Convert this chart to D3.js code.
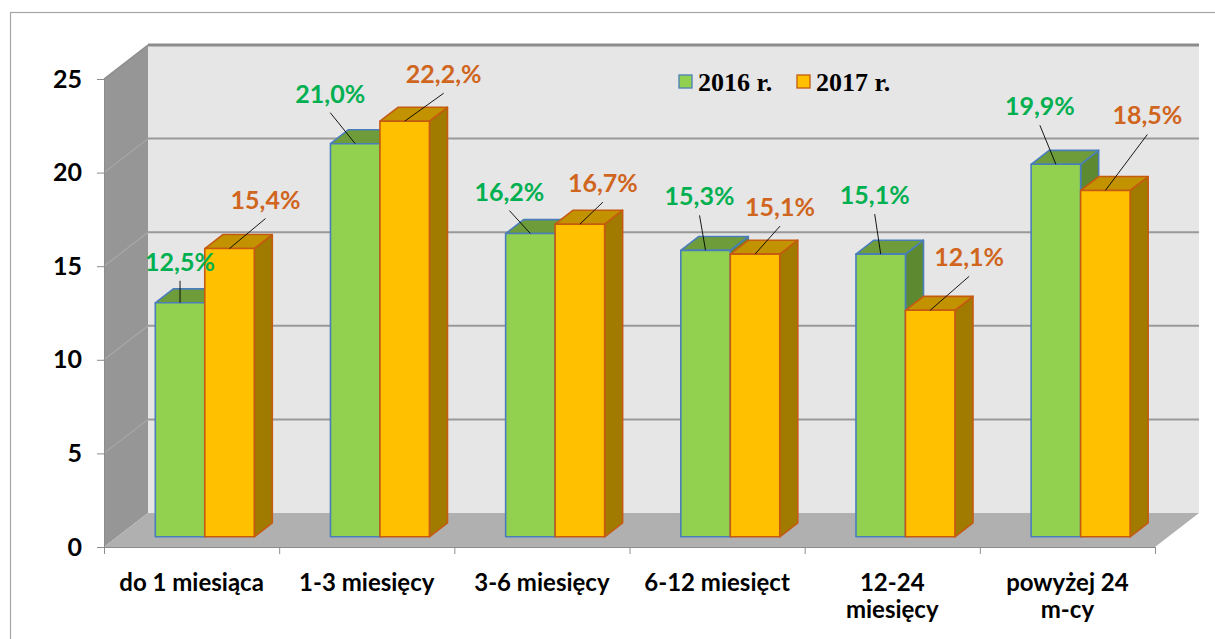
<!DOCTYPE html>
<html>
  <head>
    <meta charset="utf-8" />
    <title>Bezrobotni wg czasu pozostawania bez pracy</title>
    <script src="https://d3js.org/d3.v7.min.js"></script>
    <style>
      body { margin: 0; background: #fff; }
      svg { display: block; }
    </style>
  </head>
  <body>
    <div id="chart"></div>
    <script>
      // data
      var categories = ["do 1 miesiąca", "1-3 miesięcy", "3-6 miesięcy", "6-12 miesięct", "12-24 miesięcy", "powyżej 24 m-cy"];
      var catLines = [["do 1 miesiąca"], ["1-3 miesięcy"], ["3-6 miesięcy"], ["6-12 miesięct"], ["12-24", "miesięcy"], ["powyżej 24", "m-cy"]];
      var series = ["2016 r.", "2017 r."];
      var values2016 = [12.5, 21.0, 16.2, 15.3, 15.1, 19.9];
      var values2017 = [15.4, 22.2, 16.7, 15.1, 12.1, 18.5];
      var labels2016 = ["12,5%", "21,0%", "16,2%", "15,3%", "15,1%", "19,9%"];
      var labels2017 = ["15,4%", "22,2,%", "16,7%", "15,1%", "12,1%", "18,5%"];
      var yTicks = [0, 5, 10, 15, 20, 25];

      // where each data label sits relative to its bar top (manual, as in the original)
      var shift2016 = [[0, -41], [-25, -50], [-21, -42], [-6, -54], [-6, -59], [-16, -58]];
      var shift2017 = [[36, -49], [39, -47], [23, -41], [25, -47], [39, -53], [42, -75]];

      var width = 1215, height = 639;
      var x0 = 104, x1 = 1155;        // front edge of the floor
      var depthX = 44, depthY = 34;   // 3d offset of the back wall
      var zFront = 0.3, zBack = 0.71; // bar depth inside the box
      var font = "Lato, 'Open Sans', sans-serif";

      var styles = [
        { front: "#92D050", top: "#6E9C3A", side: "#5D8931", stroke: "#4A7EBB", label: "#00B050" },
        { front: "#FFC000", top: "#C29200", side: "#A07B00", stroke: "#C55A11", label: "#D0651E" }
      ];

      var svg = d3.select("#chart").append("svg")
        .attr("width", width)
        .attr("height", height);

      // outer chart border
      svg.append("rect")
        .attr("x", 10.5).attr("y", 12.5)
        .attr("width", 1300).attr("height", 700)
        .attr("fill", "none").attr("stroke", "#A6A6A6").attr("stroke-width", 1.2);

      var y = d3.scaleLinear().domain([0, 25]).range([547, 79]);
      var x = d3.scaleBand().domain(categories).range([x0, x1])
        .paddingInner(0.435).paddingOuter(0.2175);
      var xs = d3.scaleBand().domain(series).range([0, x.bandwidth()]);

      function pt(px, v, z) {
        return [px + z * depthX, y(v) - z * depthY];
      }
      var line = d3.line();

      // back wall
      svg.append("rect")
        .attr("x", x0 + depthX).attr("y", y(25) - depthY)
        .attr("width", x1 - x0).attr("height", y(0) - y(25))
        .attr("fill", "#E6E6E6");

      // side wall
      svg.append("path")
        .attr("d", line([pt(x0, 0, 0), pt(x0, 25, 0), pt(x0, 25, 1), pt(x0, 0, 1)]) + "Z")
        .attr("fill", "#969696");

      // floor
      svg.append("path")
        .attr("d", line([pt(x0, 0, 0), pt(x0, 0, 1), pt(x1, 0, 1), pt(x1, 0, 0)]) + "Z")
        .attr("fill", "#B0B0B0");

      // gridlines on back wall and side wall
      var grid = svg.append("g");
      yTicks.filter(function (t) { return t > 0; }).forEach(function (t) {
        grid.append("path")
          .attr("d", line([pt(x0, t, 1), pt(x1, t, 1)]))
          .attr("stroke", t === 25 ? "#8C8C8C" : "#999999")
          .attr("stroke-width", t === 25 ? 3 : 2)
          .attr("fill", "none");
        if (t < 25) {
          grid.append("path")
            .attr("d", line([pt(x0, t, 0), pt(x0, t, 1)]))
            .attr("stroke", "#A8A8A8")
            .attr("stroke-width", 1.2)
            .attr("fill", "none");
        }
      });
      grid.append("path")
        .attr("d", line([pt(x0, 25, 0), pt(x0, 25, 1)]))
        .attr("stroke", "#8C8C8C").attr("stroke-width", 1.5).attr("fill", "none");

      // axes
      var yAxis = svg.append("g")
        .attr("transform", "translate(" + x0 + ",0)")
        .call(d3.axisLeft(y).tickValues(yTicks).tickSize(7).tickPadding(15));
      yAxis.select(".domain").attr("stroke", "#8C8C8C");
      yAxis.selectAll(".tick line").attr("stroke", "#8C8C8C");
      yAxis.selectAll("text")
        .attr("font-family", font)
        .attr("font-weight", "bold")
        .attr("font-size", 25)
        .attr("fill", "#000");

      var xEdge = d3.scaleLinear().domain([0, categories.length]).range([x0, x1]);
      var xAxis = svg.append("g")
        .attr("transform", "translate(0," + y(0) + ")")
        .call(d3.axisBottom(xEdge).tickValues(d3.range(categories.length + 1)).tickSize(7).tickFormat(""));
      xAxis.select(".domain").attr("stroke", "#8C8C8C");
      xAxis.selectAll(".tick line").attr("stroke", "#8C8C8C");

      // category labels
      var catText = svg.append("g").selectAll("text")
        .data(categories)
        .join("text")
        .attr("x", function (d) { return x(d) + x.bandwidth() / 2; })
        .attr("y", 591)
        .attr("text-anchor", "middle")
        .attr("font-family", font)
        .attr("font-weight", "bold")
        .attr("font-size", 24)
        .attr("fill", "#000");
      catText.each(function (d, i) {
        var t = d3.select(this);
        catLines[i].forEach(function (s, k) {
          t.append("tspan")
            .attr("x", x(d) + x.bandwidth() / 2)
            .attr("dy", k === 0 ? 0 : 27)
            .text(s);
        });
      });

      // bars
      var allValues = [values2016, values2017];
      var allLabels = [labels2016, labels2017];
      var allShifts = [shift2016, shift2017];
      var bars = svg.append("g");
      var labelLayer = svg.append("g");

      categories.forEach(function (c, i) {
        series.forEach(function (s, j) {
          var v = allValues[j][i];
          var st = styles[j];
          var left = x(c) + xs(s);
          var right = left + xs.bandwidth();
          var g = bars.append("g")
            .attr("stroke", st.stroke)
            .attr("stroke-width", 1.6)
            .attr("stroke-linejoin", "round");
          // side
          g.append("path")
            .attr("d", line([pt(right, v, zFront), pt(right, v, zBack), pt(right, 0, zBack), pt(right, 0, zFront)]) + "Z")
            .attr("fill", st.side);
          // top
          g.append("path")
            .attr("d", line([pt(left, v, zFront), pt(left, v, zBack), pt(right, v, zBack), pt(right, v, zFront)]) + "Z")
            .attr("fill", st.top);
          // front
          g.append("path")
            .attr("d", line([pt(left, 0, zFront), pt(left, v, zFront), pt(right, v, zFront), pt(right, 0, zFront)]) + "Z")
            .attr("fill", st.front);

          // data label with leader line
          var anchor = pt((left + right) / 2, v, zFront);
          var tx = anchor[0] + allShifts[j][i][0];
          var ty = anchor[1] + allShifts[j][i][1];
          labelLayer.append("line")
            .attr("x1", tx).attr("y1", ty + 19)
            .attr("x2", anchor[0]).attr("y2", anchor[1])
            .attr("stroke", "#000").attr("stroke-width", 0.9);
          labelLayer.append("text")
            .attr("x", tx).attr("y", ty)
            .attr("dy", "0.36em")
            .attr("text-anchor", "middle")
            .attr("font-family", font)
            .attr("font-weight", "bold")
            .attr("font-size", 25)
            .attr("fill", st.label)
            .text(allLabels[j][i]);
        });
      });

      // legend
      var legend = svg.append("g").attr("transform", "translate(679,75)");
      var lx = 0;
      series.forEach(function (s, j) {
        var item = legend.append("g").attr("transform", "translate(" + lx + ",0)");
        item.append("rect")
          .attr("width", 13).attr("height", 13)
          .attr("fill", styles[j].front)
          .attr("stroke", styles[j].stroke).attr("stroke-width", 1.3);
        item.append("text")
          .attr("x", 19).attr("y", 16)
          .attr("font-family", "'Liberation Serif', 'Times New Roman', serif")
          .attr("font-weight", "bold")
          .attr("font-size", 26)
          .attr("fill", "#000")
          .text(s);
        lx += 118;
      });
    </script>
  </body>
</html>
